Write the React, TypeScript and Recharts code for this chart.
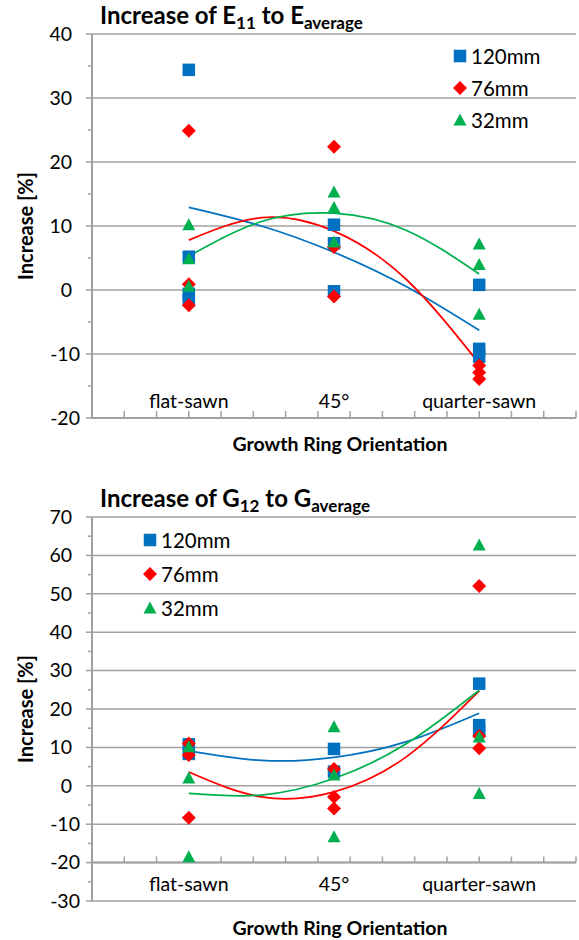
import React from 'react'
import { ComposedChart, Scatter, Line, XAxis, YAxis, CartesianGrid, ReferenceLine, Legend } from 'recharts'

const CATEGORIES = ['flat-sawn', '45°', 'quarter-sawn']
const CATEGORY_X = [3, 7.5, 12]
const X_TICKS = [0, 1, 2, 3, 4, 5, 6, 7, 8, 9, 10, 11, 12, 13, 14, 15]
const TREND_X = [3, 5.25, 7.5, 9.75, 12]

const SERIES = [
  { name: '120mm', color: '#0070C0', shape: 'square' },
  { name: '76mm', color: '#FF0000', shape: 'diamond' },
  { name: '32mm', color: '#00B050', shape: 'triangle' },
]

// E11 to E_average, values per category (flat-sawn, 45°, quarter-sawn)
const E_120 = [[34.4, 5.2, -0.6, -1.6], [10.2, 7.3, -0.2], [0.8, -9.2, -10.4]]
const E_76 = [[24.9, 0.9, -2.4], [22.4, 6.7, -1.0], [-11.8, -12.9, -13.9]]
const E_32 = [[10.2, 4.9, 0.6], [15.3, 12.9, 7.5], [7.2, 4.0, -3.8]]
const E_120_TREND = [12.9, 10.0, 5.9, 0.5, -6.3]
const E_76_TREND = [7.8, 11.3, 9.2, 1.6, -11.5]
const E_32_TREND = [5.3, 10.7, 12.0, 9.3, 2.5]
const E_TICKS = [-20, -15, -10, -5, 0, 5, 10, 15, 20, 25, 30, 35, 40]
const E_GRID = [-20, -10, 0, 10, 20, 30, 40]

// G12 to G_average
const G_120 = [[10.8, 8.3], [9.6, 3.7], [26.6, 15.8, 14.2]]
const G_76 = [[11.0, 8.0, -8.3], [4.4, -2.9, -5.9], [52.0, 13.0, 9.8]]
const G_32 = [[10.2, 2.0, -18.5], [15.4, 2.8, -13.3], [62.7, 12.7, -2.0]]
const G_120_TREND = [9.1, 6.6, 7.4, 11.5, 18.9]
const G_76_TREND = [3.6, -2.9, -1.6, 7.6, 24.7]
const G_32_TREND = [-2.0, -2.4, 1.9, 11.0, 24.9]
const G_TICKS = [-30, -25, -20, -15, -10, -5, 0, 5, 10, 15, 20, 25, 30, 35, 40, 45, 50, 55, 60, 65, 70]
const G_GRID = [-30, -20, -10, 0, 10, 20, 30, 40, 50, 60, 70]

const AXIS_CROSS = -20
const GRID = '#a0a0a0'
const PLOT_LEFT = 92
const LABEL_SIZE = 19.5

const toPoints = (vals: number[][]) => vals.flatMap((arr, i) => arr.map((y) => ({ x: CATEGORY_X[i], y })))
const toTrend = (vals: number[]) => vals.map((y, i) => ({ x: TREND_X[i], y }))

function Marker({ shape, cx, cy, color }: { shape: string; cx: number; cy: number; color: string }) {
  if (shape === 'square') return <rect x={cx - 6.25} y={cy - 6.25} width={12.5} height={12.5} fill={color} />
  if (shape === 'diamond')
    return <polygon points={`${cx},${cy - 7} ${cx + 7},${cy} ${cx},${cy + 7} ${cx - 7},${cy}`} fill={color} />
  return <polygon points={`${cx},${cy - 6.5} ${cx + 6.5},${cy + 5.5} ${cx - 6.5},${cy + 5.5}`} fill={color} />
}

function YTick(props: any) {
  const { y, payload } = props
  const v = payload.value
  const major = v % 10 === 0
  return (
    <g>
      <line x1={PLOT_LEFT - (major ? 6 : 4)} x2={PLOT_LEFT} y1={y} y2={y} stroke={GRID} strokeWidth={1.5} />
      {major && (
        <text x={PLOT_LEFT - (v < 0 ? 12 : 20)} y={y} dy="0.35em" textAnchor="end" fontSize={LABEL_SIZE} fill="#000">
          {v < 0 ? '-' + Math.abs(v) : v}
        </text>
      )}
    </g>
  )
}

function LegendBox({ rowH }: { rowH: number }) {
  return (
    <div>
      {SERIES.map((s) => (
        <div key={s.name} style={{ display: 'flex', alignItems: 'center', height: rowH }}>
          <svg width={14} height={14}>
            <Marker shape={s.shape} cx={7} cy={7} color={s.color} />
          </svg>
          <span style={{ marginLeft: 4, fontSize: 20.5, color: '#000', lineHeight: 1 }}>{s.name}</span>
        </div>
      ))}
    </div>
  )
}

type PanelProps = {
  margin: { top: number; right: number; bottom: number; left: number }
  domain: [number, number]
  ticks: number[]
  grid: number[]
  points: number[][][]
  trends: number[][]
  labelY: number
  tickLen: number
  legend: { left: number; top: number; rowH: number }
}

function Panel({ margin, domain, ticks, grid, points, trends, labelY, tickLen, legend }: PanelProps) {
  const labels = CATEGORIES.map((c, i) => ({ x: CATEGORY_X[i], y: labelY, label: c }))
  return (
    <ComposedChart width={579} height={470} margin={margin}>
      <CartesianGrid vertical={false} horizontalValues={grid} stroke={GRID} strokeWidth={1.5} />
      <XAxis dataKey="x" type="number" domain={[0, 15]} ticks={X_TICKS} allowDataOverflow hide />
      <YAxis
        dataKey="y"
        type="number"
        domain={domain}
        ticks={ticks}
        interval={0}
        width={92}
        tickSize={0}
        tickLine={false}
        tick={<YTick />}
        axisLine={{ stroke: GRID, strokeWidth: 2 }}
        allowDataOverflow
      />
      <ReferenceLine y={AXIS_CROSS} stroke={GRID} strokeWidth={2} />
      {X_TICKS.map((t) => (
        <ReferenceLine
          key={t}
          segment={[{ x: t, y: AXIS_CROSS }, { x: t, y: AXIS_CROSS + tickLen }]}
          stroke={GRID}
          strokeWidth={1.5}
        />
      ))}
      <Scatter
        data={labels}
        legendType="none"
        isAnimationActive={false}
        shape={(p: any) => (
          <text x={p.cx} y={p.cy} dy="0.35em" textAnchor="middle" fontSize={LABEL_SIZE} fill="#000">
            {p.payload.label}
          </text>
        )}
      />
      {SERIES.map((s, i) => (
        <Scatter
          key={s.name}
          name={s.name}
          data={toPoints(points[i])}
          isAnimationActive={false}
          shape={(p: any) => <Marker shape={s.shape} cx={p.cx} cy={p.cy} color={s.color} />}
        />
      ))}
      {SERIES.map((s, i) => (
        <Line
          key={s.name + '-trend'}
          data={toTrend(trends[i])}
          dataKey="y"
          type="natural"
          stroke={s.color}
          strokeWidth={1.75}
          dot={false}
          activeDot={false}
          legendType="none"
          isAnimationActive={false}
        />
      ))}
      <Legend
        layout="vertical"
        align="center"
        verticalAlign="middle"
        content={() => <LegendBox rowH={legend.rowH} />}
        wrapperStyle={{ position: 'absolute', left: legend.left, top: legend.top, width: 'auto', height: 'auto' }}
      />
    </ComposedChart>
  )
}

const titleStyle: React.CSSProperties = {
  position: 'absolute',
  left: 100,
  fontSize: 24,
  fontWeight: 700,
  lineHeight: '24px',
  whiteSpace: 'nowrap',
  color: '#000',
}
const subStyle: React.CSSProperties = { fontSize: 17, verticalAlign: -5 }
const axisTitle: React.CSSProperties = {
  position: 'absolute',
  left: 340,
  transform: 'translateX(-50%)',
  fontSize: 19.5,
  fontWeight: 700,
  lineHeight: '20px',
  whiteSpace: 'nowrap',
  color: '#000',
}
const yTitle: React.CSSProperties = {
  position: 'absolute',
  left: 25,
  fontSize: 20,
  fontWeight: 700,
  lineHeight: '20px',
  whiteSpace: 'nowrap',
  color: '#000',
  transform: 'translate(-50%, -50%) rotate(-90deg)',
}

export default function App() {
  return (
    <div style={{ position: 'absolute', left: 0, top: 0, width: 579, height: 940, background: '#fff', fontFamily: 'Lato, sans-serif' }}>
      <div style={{ position: 'absolute', left: 0, top: 0 }}>
        <Panel
          margin={{ top: 34, right: 3, bottom: 52, left: 0 }}
          domain={[-20, 40]}
          ticks={E_TICKS}
          grid={E_GRID}
          points={[E_120, E_76, E_32]}
          trends={[E_120_TREND, E_76_TREND, E_32_TREND]}
          labelY={-17.3}
          tickLen={1.1}
          legend={{ left: 453, top: 40, rowH: 32 }}
        />
      </div>
      <div style={{ position: 'absolute', left: 0, top: 470 }}>
        <Panel
          margin={{ top: 47, right: 3, bottom: 39, left: 0 }}
          domain={[-30, 70]}
          ticks={G_TICKS}
          grid={G_GRID}
          points={[G_120, G_76, G_32]}
          trends={[G_120_TREND, G_76_TREND, G_32_TREND]}
          labelY={-25.6}
          tickLen={1.6}
          legend={{ left: 143, top: 53, rowH: 34 }}
        />
      </div>
      <div style={{ ...titleStyle, top: 3 }}>
        Increase of E<span style={subStyle}>11</span> to E<span style={subStyle}>average</span>
      </div>
      <div style={{ ...titleStyle, top: 486 }}>
        Increase of G<span style={subStyle}>12</span> to G<span style={subStyle}>average</span>
      </div>
      <div style={{ ...axisTitle, top: 434 }}>Growth Ring Orientation</div>
      <div style={{ ...axisTitle, top: 918 }}>Growth Ring Orientation</div>
      <div style={{ ...yTitle, top: 226 }}>Increase [%]</div>
      <div style={{ ...yTitle, top: 709 }}>Increase [%]</div>
    </div>
  )
}
